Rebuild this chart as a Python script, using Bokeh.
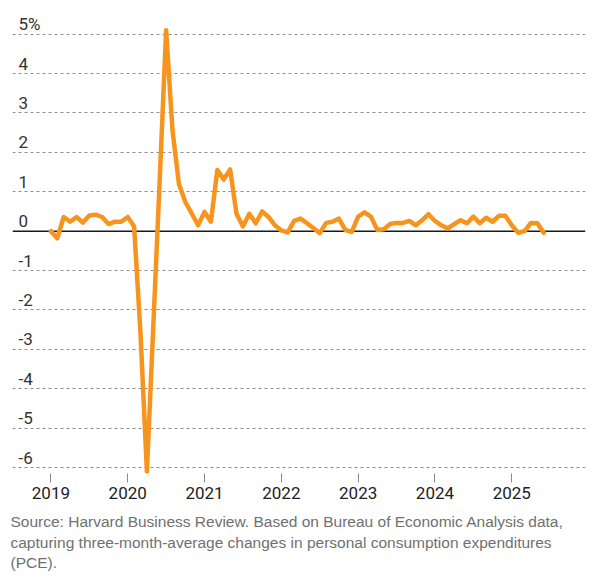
from bokeh.plotting import figure
from bokeh.models import FixedTicker, Span, Title, Range1d
from bokeh.core.properties import value
from bokeh.embed import file_html
from bokeh.resources import INLINE

# ---- data (three-month-average change in PCE, %, monthly from Jan 2019) ----
start_year = 2019
pce_2019 = [0.00, -0.18, 0.36, 0.24, 0.36, 0.22, 0.40, 0.42, 0.36, 0.18, 0.24, 0.24]
pce_2020 = [0.36, 0.12, -2.60, -6.10, -2.40, 1.30, 5.10, 2.56, 1.20, 0.74, 0.45, 0.15]
pce_2021 = [0.49, 0.24, 1.55, 1.31, 1.57, 0.44, 0.12, 0.44, 0.20, 0.50, 0.36, 0.15]
pce_2022 = [0.02, -0.03, 0.26, 0.32, 0.20, 0.08, -0.05, 0.21, 0.24, 0.32, 0.03, -0.02]
pce_2023 = [0.37, 0.48, 0.37, 0.03, 0.05, 0.18, 0.21, 0.21, 0.26, 0.15, 0.28, 0.43]
pce_2024 = [0.26, 0.15, 0.07, 0.18, 0.28, 0.20, 0.37, 0.20, 0.34, 0.24, 0.39, 0.39]
pce_2025 = [0.15, -0.04, 0.00, 0.21, 0.20, -0.04]

pce = pce_2019 + pce_2020 + pce_2021 + pce_2022 + pce_2023 + pce_2024 + pce_2025
months = [start_year + i / 12 for i in range(len(pce))]

year_ticks = [2019, 2020, 2021, 2022, 2023, 2024, 2025]
year_labels = ["2019", "2020", "2021", "2022", "2023", "2024", "2025"]

y_ticks = [-6, -5, -4, -3, -2, -1, 0, 1, 2, 3, 4, 5]
y_labels = ["-6", "-5", "-4", "-3", "-2", "-1", "0", "1", "2", "3", "4", "5%"]

source_text = ("Source: Harvard Business Review. Based on Bureau of Economic Analysis data,\n"
               "capturing three-month-average changes in personal consumption expenditures\n"
               "(PCE).")

LABEL_FONT = "Roboto"

# ---- figure ----
x0, x1 = 2018.5, 2025.96
p = figure(width=587, height=583,
           x_range=Range1d(x0, x1), y_range=Range1d(-6.15, 5.55),
           y_axis_location=None, toolbar_location=None, output_backend="svg",
           min_border_left=12, min_border_right=2, min_border_top=12,
           min_border_bottom=110)
p.outline_line_color = None
p.background_fill_color = "white"
p.border_fill_color = "white"

p.xgrid.visible = False
p.ygrid.ticker = FixedTicker(ticks=[t for t in y_ticks if t != 0])
p.ygrid.grid_line_color = "#8f8f8f"
p.ygrid.grid_line_dash = "3 3"
p.ygrid.grid_line_width = 1

zero = Span(location=0, dimension="width", line_color="#1a1a1a", line_width=1.5, level="underlay")
p.add_layout(zero)

ax = p.xaxis[0]
ax.ticker = FixedTicker(ticks=year_ticks)
ax.major_label_overrides = {t: l for t, l in zip(year_ticks, year_labels)}
ax.axis_line_color = None
ax.major_tick_line_color = "#8a8a8a"
ax.major_tick_line_width = 1
ax.major_tick_in = 0
ax.major_tick_out = 9
ax.minor_tick_line_color = None
ax.major_label_standoff = 4
ax.major_label_text_font = LABEL_FONT
ax.major_label_text_font_size = "17px"
ax.major_label_text_color = "#222222"

# y labels drawn above gridlines, inside the frame
p.text(x=[x0] * len(y_ticks), y=y_ticks, text=y_labels,
       x_offset=6, y_offset=-10, text_align="left", text_baseline="alphabetic",
       text_font=value(LABEL_FONT), text_font_size=value("17px"),
       text_color="#333333")

p.line(months, pce, line_color="#f7941d", line_width=4.5,
       line_join="round", line_cap="round")

src = Title(text=source_text, align="left", text_font="Liberation Sans",
            text_font_size="15.5px", text_font_style="normal", text_color="#707070",
            text_line_height=1.22, standoff=20, offset=-2)
p.add_layout(src, "below")

open("out.html", "w").write(file_html(p, INLINE))
